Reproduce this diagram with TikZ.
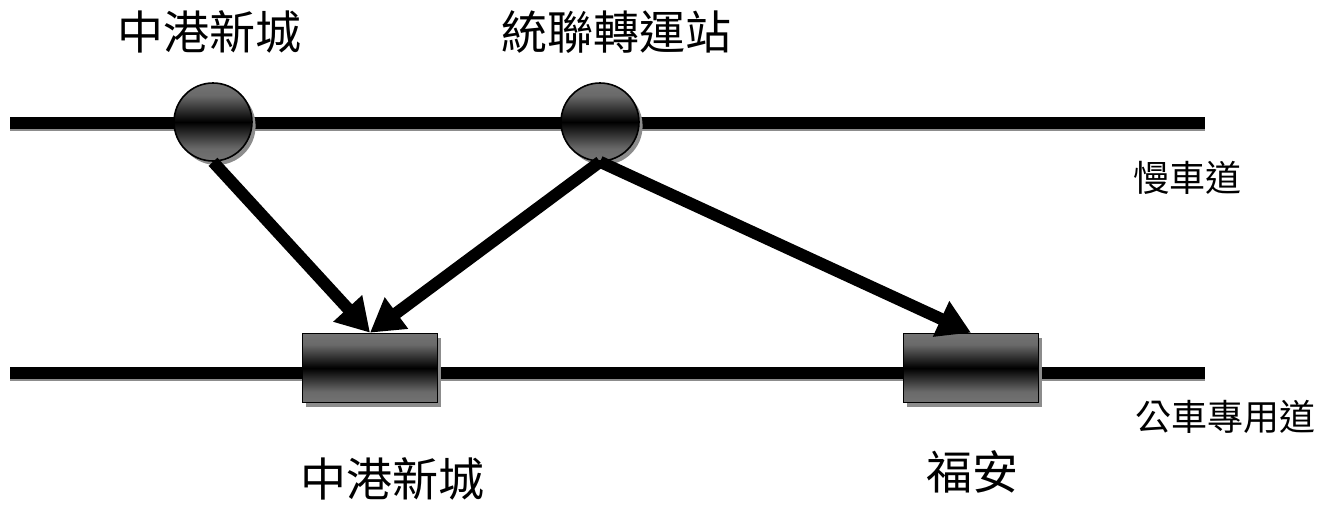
\documentclass[tikz,border=0pt]{standalone}
\usepackage{fontspec}
\newfontfamily\cjk{Noto Sans CJK TC}
\usetikzlibrary{arrows.meta, shadows}
\definecolor{shadegray}{rgb}{0.45,0.45,0.45}
\definecolor{shadowgray}{rgb}{0.55,0.55,0.55}
\pgfdeclareverticalshading{stopshade}{100bp}{color(0bp)=(shadegray); color(25bp)=(shadegray); color(33bp)=(shadegray!92!black);
    color(50bp)=(black); color(67bp)=(shadegray!92!black); color(75bp)=(shadegray); color(100bp)=(shadegray)}
\tikzset{ %道路与站点
    road/.style={line width=6pt},
    stop/.style={circle, draw=black, line width=0.8pt, minimum size=39pt, inner sep=0pt,
        shading=stopshade,
        drop shadow={shadow xshift=1.8pt, shadow yshift=-2pt, fill=shadowgray, opacity=1}},
    busstop/.style={rectangle, draw=black, line width=0.8pt, minimum width=67.5pt, minimum height=34.5pt, inner sep=0pt,
        shading=stopshade,
        drop shadow={shadow xshift=1.8pt, shadow yshift=-2pt, fill=shadowgray, opacity=1}},
    transfer/.style={line width=6pt, -{Triangle[length=16.5pt, width=18.5pt]}},
    bigname/.style={font=\cjk\fontsize{23pt}{27pt}\selectfont, inner sep=0pt},
    roadname/.style={font=\cjk\fontsize{18pt}{21pt}\selectfont, inner sep=0pt},
}

\begin{document}
\begin{tikzpicture}[x=0.5pt, y=-0.5pt]
			\useasboundingbox (0,0) rectangle (1333,504);
			% 慢车道与公车专用道
			\coordinate (slowW) at (10,123);
			\coordinate (slowE) at (1205,123);
			\coordinate (busW) at (10,373);
			\coordinate (busE) at (1205,373);
			\draw[road, shadowgray] ([yshift=-1pt]slowW) -- ([yshift=-1pt]slowE);
			\draw[road, shadowgray] ([yshift=-1pt]busW) -- ([yshift=-1pt]busE);
			\draw[road] (slowW) -- (slowE);
			\draw[road] (busW) -- (busE);
			% 站点
			\node[stop] (zgSlow) at (213,122) {};
			\node[stop] (tlSlow) at (600,122) {};
			\node[busstop] (zgBus) at (370,368) {};
			\node[busstop] (faBus) at (971,368) {};
			% 转乘
			\draw[transfer] (zgSlow.south) -- (zgBus.north);
			\draw[transfer] (tlSlow.south) -- (zgBus.north);
			\draw[transfer] (tlSlow.south) -- (faBus.north);
			% 文字
			\node[bigname] (zgTop) at (209,32) {中港新城};
			\node[bigname] (tlTop) at (616,32) {統聯轉運站};
			\node[bigname] (zgBottom) at (392,479) {中港新城};
			\node[bigname] (faBottom) at (972,472) {福安};
			\node[roadname] (slowName) at (1187,178) {慢車道};
			\node[roadname] (busName) at (1225,417) {公車專用道};
		\end{tikzpicture}
\end{document}
